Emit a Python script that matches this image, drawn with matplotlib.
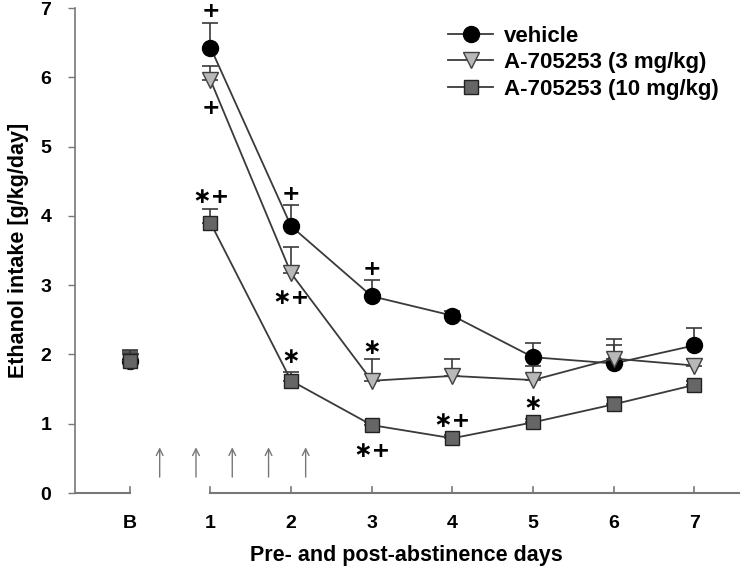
import matplotlib
matplotlib.use("Agg")
import matplotlib.pyplot as plt
import matplotlib.transforms as mtransforms

plt.rcParams['font.family'] = ['Liberation Sans', 'DejaVu Sans']
plt.rcParams['font.weight'] = 'bold'

days = [0, 1, 2, 3, 4, 5, 6, 7]
tick_labels = ['B', '1', '2', '3', '4', '5', '6', '7']

vehicle_mean = [1.90, 6.43, 3.85, 2.84, 2.56, 1.96, 1.87, 2.13]
vehicle_err = [0.15, 0.36, 0.30, 0.24, 0.06, 0.21, 0.26, 0.25]
low_mean = [1.90, 5.96, 3.17, 1.62, 1.69, 1.63, 1.94, 1.84]
low_err = [0.12, 0.20, 0.38, 0.31, 0.25, 0.20, 0.29, 0.10]
high_mean = [1.90, 3.90, 1.62, 0.98, 0.79, 1.02, 1.28, 1.56]
high_err = [0.17, 0.20, 0.13, 0.05, 0.05, 0.05, 0.10, 0.06]

labels = ['vehicle', 'A-705253 (3 mg/kg)', 'A-705253 (10 mg/kg)']

ann_x = [1, 1, 1, 2, 2, 2, 3, 3, 3, 4, 5]
ann_y = [6.96, 5.56, 4.27, 4.32, 2.82, 1.96, 3.24, 2.09, 0.60, 1.04, 1.28]
ann_text = ['+', '+', '\u2217+', '+', '\u2217+', '\u2217', '+', '\u2217', '\u2217+', '\u2217+', '\u2217']

arrow_x = [0.37, 0.82, 1.27, 1.72, 2.18]
arrow_y0, arrow_y1 = 0.19, 0.70

fig = plt.figure(figsize=(7.5, 5.73), dpi=100)
ax = fig.add_axes([0.1, 0.1396, 0.885, 0.8464])

line_col = '#3a3a3a'
series = [
    (vehicle_mean, vehicle_err, 'o', 'black', 'black', 11.5, 3),
    (low_mean, low_err, 'v', '#b8b8b8', '#404040', 11.5, 4),
    (high_mean, high_err, 's', '#666666', '#222222', 10, 5),
]
for (m, e, mk, fc, ec, ms, z), lab in zip(series, labels):
    ax.errorbar(days, m, yerr=[[0] * len(e), e], fmt='none', ecolor=line_col,
                elinewidth=1.2, capsize=6, capthick=1.2, zorder=z - 0.5)
    ax.plot(days[1:], m[1:], '-', color=line_col, lw=1.3, zorder=z - 0.5)
    ax.plot(days, m, linestyle='none', marker=mk, ms=ms, mfc=fc, mec=ec,
            mew=1.0, zorder=z)
    ax.plot([], [], '-', color=line_col, lw=1.3, marker=mk, ms=ms, mfc=fc,
            mec=ec, mew=1.0, label=lab)

for x, y, t in zip(ann_x, ann_y, ann_text):
    ax.text(x, y, t, ha='center', va='center', fontsize=16, fontweight='bold',
            family=['DejaVu Sans'], color='black', zorder=6)

for x in arrow_x:
    ax.annotate('', xy=(x, arrow_y1), xytext=(x, arrow_y0),
                arrowprops=dict(arrowstyle='->', color='#777777', lw=1.0,
                                mutation_scale=12))

ax.set_xlim(-0.68, 7.55)
ax.set_ylim(0, 7)
ax.set_xticks(days)
ax.set_xticklabels(tick_labels)
ax.set_yticks(range(8))
for s in ['top', 'right', 'bottom']:
    ax.spines[s].set_visible(False)
ax.spines['left'].set_color('#777777')
ax.spines['left'].set_linewidth(1.2)
ax.tick_params(axis='y', direction='out', length=5, color='#777777', width=1.0,
               labelsize=14, pad=12)
ax.tick_params(axis='x', direction='in', length=5, color='#777777', width=1.0,
               labelsize=14, pad=16, bottom=False)

# broken x-axis
trans = mtransforms.blended_transform_factory(ax.transData, ax.transAxes)
ax.plot([-0.68, 0], [0, 0], color='#777777', lw=1.5, transform=trans, clip_on=False)
ax.plot([1, 7.55], [0, 0], color='#777777', lw=1.5, transform=trans, clip_on=False)
for x in days:
    ax.plot([x, x], [0, 0.012], color='#777777', lw=1.2, transform=trans, clip_on=False)

ax.set_ylabel('Ethanol intake [g/kg/day]', fontsize=15.5, fontweight='bold', labelpad=8)
ax.set_xlabel('Pre- and post-abstinence days', fontsize=15.5, fontweight='bold', labelpad=9)

leg = ax.legend(loc='upper right', bbox_to_anchor=(1.0, 1.005), frameon=False,
                fontsize=16, handlelength=2.0, labelspacing=0.25, handletextpad=0.5)
for t in leg.get_texts():
    t.set_fontweight('bold')

fig.savefig('out.png', dpi=100)
